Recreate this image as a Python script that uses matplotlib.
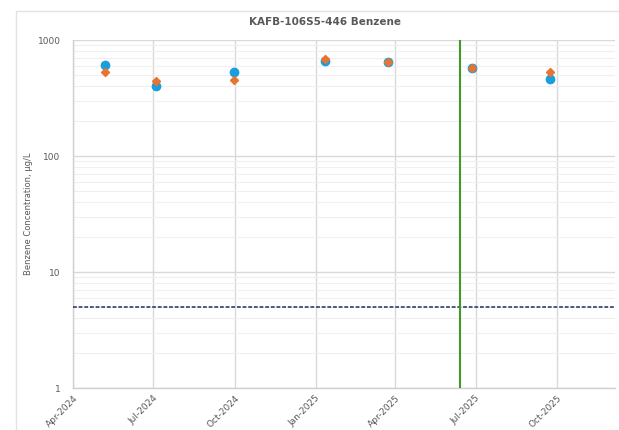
import matplotlib.pyplot as plt
import matplotlib.dates as mdates
from matplotlib.ticker import LogLocator, FixedLocator, NullFormatter
from matplotlib.patches import Rectangle
import numpy as np
import datetime as dt

# sample dates and benzene results (ug/L)
dates = [dt.date(2024, 5, 7), dt.date(2024, 7, 4), dt.date(2024, 9, 30),
         dt.date(2025, 1, 11), dt.date(2025, 3, 24), dt.date(2025, 6, 27),
         dt.date(2025, 9, 23)]
blue_vals = [612, 404, 533, 659, 648, 570, 461]
orange_vals = [530, 446, 452, 686, 652, 572, 527]

tick_dates = [dt.date(2024, 4, 1), dt.date(2024, 7, 1), dt.date(2024, 10, 1),
              dt.date(2025, 1, 1), dt.date(2025, 4, 1), dt.date(2025, 7, 1),
              dt.date(2025, 10, 1)]
tick_labels = ['Apr-2024', 'Jul-2024', 'Oct-2024', 'Jan-2025', 'Apr-2025',
               'Jul-2025', 'Oct-2025']
event_date = dt.date(2025, 6, 13)
mcl = 5

grey = '#595959'

fig = plt.figure(figsize=(6.19, 4.3), dpi=100)
# chart area border
fig.patches.append(Rectangle((16 / 619, -0.1), 1.1, 1.1 - 11 / 430,
                             transform=fig.transFigure, fill=False,
                             edgecolor='#e3e3e3', linewidth=1.0))
ax = fig.add_axes([73 / 619, 1 - 388 / 430, (615 - 73) / 619, (388 - 40) / 430])

ax.set_yscale('log')
ax.set_ylim(1, 1000)
ax.set_xlim(mdates.date2num(dt.date(2024, 4, 1)), mdates.date2num(dt.date(2025, 12, 6)))

ax.yaxis.set_major_locator(FixedLocator([1, 10, 100, 1000]))
ax.yaxis.set_major_formatter(plt.FuncFormatter(lambda v, p: f'{int(v)}'))
ax.yaxis.set_minor_locator(LogLocator(base=10, subs=np.arange(2, 10)))
ax.yaxis.set_minor_formatter(NullFormatter())

ax.set_xticks(mdates.date2num(tick_dates))
ax.set_xticklabels(tick_labels, rotation=45, ha='right', rotation_mode='anchor')

ax.grid(True, which='major', axis='both', color='#d9d9d9', linewidth=1.0)
ax.grid(True, which='minor', axis='y', color='#efefef', linewidth=0.8)
ax.set_axisbelow(True)

for s in ['top', 'right']:
    ax.spines[s].set_visible(False)
for s in ['left', 'bottom']:
    ax.spines[s].set_color('#d0d0d0')
    ax.spines[s].set_linewidth(1.0)

ax.tick_params(axis='both', which='both', length=0, colors=grey, labelsize=6.5)
ax.tick_params(axis='x', pad=4)
ax.tick_params(axis='y', pad=9)

ax.axhline(mcl, color='#1f2f5c', linestyle=(0, (2.5, 1.2)), linewidth=1.1, zorder=3)
ax.axvline(mdates.date2num(event_date), color='#3f9a2a', linewidth=1.5, zorder=3)

xd = mdates.date2num(dates)
ax.plot(xd, blue_vals, linestyle='none', marker='o', markersize=6,
        color='#1a9fdc', zorder=4)
ax.plot(xd, orange_vals, linestyle='none', marker='D', markersize=4.5,
        color='#e8742f', zorder=5)

ax.set_ylabel('Benzene Concentration, \u00b5g/L', fontsize=6, color=grey)
ax.yaxis.set_label_coords(-0.074, 0.5)
fig.text(325 / 619, 1 - 22 / 430, 'KAFB-106S5-446 Benzene', ha='center', va='center',
         fontsize=7.5, fontweight='bold', color=grey)

fig.savefig('out.png', dpi=100)
